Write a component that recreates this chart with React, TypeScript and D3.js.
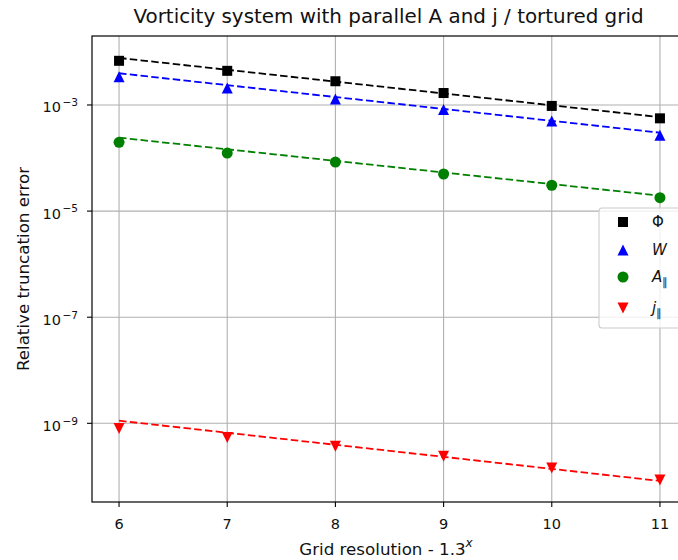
import { useMemo } from "react";
import * as d3 from "d3";

// grid resolutions (exponent of 1.3)
const resolutions = [6, 7, 8, 9, 10, 11];

// measured relative truncation errors
const phiErr = [6.8e-3, 4.4e-3, 2.8e-3, 1.68e-3, 9.6e-4, 5.6e-4];
const wErr = [3.4e-3, 2.1e-3, 1.3e-3, 8.2e-4, 5.0e-4, 2.7e-4];
const aParErr = [1.98e-4, 1.24e-4, 8.4e-5, 5.0e-5, 3.07e-5, 1.79e-5];
const jParErr = [8.0e-10, 5.4e-10, 3.7e-10, 2.4e-10, 1.44e-10, 8.5e-11];

// dashed reference lines: value at first and last resolution
const phiFit = [7.7e-3, 5.9e-4];
const wFit = [3.96e-3, 3.0e-4];
const aParFit = [2.42e-4, 1.95e-5];
const jParFit = [1.12e-9, 8.2e-11];

const yTicks = [1e-3, 1e-5, 1e-7, 1e-9];
const yTickExp = ["3", "5", "7", "9"];

const width = 678;
const height = 560;
const margin = { left: 92, right: 687, top: 36, bottom: 502 };
const font = "DejaVu Sans, sans-serif";
const ink = "#111";

type Series = {
  key: string;
  values: number[];
  fit: number[];
  color: string;
  marker: "square" | "up" | "circle" | "down";
};

const series: Series[] = [
  { key: "phi", values: phiErr, fit: phiFit, color: "#000000", marker: "square" },
  { key: "w", values: wErr, fit: wFit, color: "#0000ff", marker: "up" },
  { key: "apar", values: aParErr, fit: aParFit, color: "#008000", marker: "circle" },
  { key: "jpar", values: jParErr, fit: jParFit, color: "#ff0000", marker: "down" },
];

function Marker({ type, x, y, color }: { type: string; x: number; y: number; color: string }) {
  const s = 5.5;
  if (type === "square") return <rect x={x - 5} y={y - 5} width={10} height={10} fill={color} />;
  if (type === "circle") return <circle cx={x} cy={y} r={5.5} fill={color} />;
  if (type === "up")
    return <path d={`M${x},${y - s}L${x + s},${y + s}L${x - s},${y + s}Z`} fill={color} />;
  return <path d={`M${x},${y + s}L${x + s},${y - s}L${x - s},${y - s}Z`} fill={color} />;
}

export default function App() {
  const x = useMemo(
    () => d3.scaleLinear().domain([5.75, 11.25]).range([margin.left, margin.right]),
    []
  );
  const y = useMemo(
    () =>
      d3
        .scaleLog()
        .domain([Math.pow(10, -10.483), Math.pow(10, -1.7)])
        .range([margin.bottom, margin.top]),
    []
  );
  const line = d3
    .line<[number, number]>()
    .x((d) => x(d[0]))
    .y((d) => y(d[1]));

  const first = resolutions[0];
  const last = resolutions[resolutions.length - 1];

  const legendX = 599;
  const legendY = 208;
  const legendItems = [
    { marker: "square", color: "#000000", label: <tspan>Φ</tspan> },
    { marker: "up", color: "#0000ff", label: <tspan fontStyle="italic">W</tspan> },
    {
      marker: "circle",
      color: "#008000",
      label: (
        <>
          <tspan fontStyle="italic">A</tspan>
          <tspan fontSize={11} dy={4}>∥</tspan>
        </>
      ),
    },
    {
      marker: "down",
      color: "#ff0000",
      label: (
        <>
          <tspan fontStyle="italic">j</tspan>
          <tspan fontSize={11} dy={4}>∥</tspan>
        </>
      ),
    },
  ];
  const legendRowY = [222, 250, 277, 308];

  return (
    <svg
      width={width}
      height={height}
      style={{ position: "absolute", left: 0, top: 0, background: "#fff" }}
      fontFamily={font}
    >
      <defs>
        <clipPath id="plot">
          <rect x={margin.left} y={margin.top} width={margin.right - margin.left} height={margin.bottom - margin.top} />
        </clipPath>
      </defs>
      {/* grid */}
      <g stroke="#b0b0b0" strokeWidth={1.1}>
        {resolutions.map((r) => (
          <line key={r} x1={x(r)} x2={x(r)} y1={margin.top} y2={margin.bottom} />
        ))}
        {yTicks.map((t) => (
          <line key={t} x1={margin.left} x2={margin.right} y1={y(t)} y2={y(t)} />
        ))}
      </g>
      {/* reference lines and markers */}
      <g clipPath="url(#plot)">
        {series.map((s) => (
          <path
            key={s.key}
            d={line([
              [first, s.fit[0]],
              [last, s.fit[1]],
            ]) || ""}
            fill="none"
            stroke={s.color}
            strokeWidth={1.8}
            strokeDasharray="7.5,3.3"
          />
        ))}
        {series.map((s) =>
          s.values.map((v, i) => (
            <Marker key={s.key + i} type={s.marker} x={x(resolutions[i])} y={y(v)} color={s.color} />
          ))
        )}
      </g>
      {/* spines */}
      <rect
        x={margin.left}
        y={margin.top}
        width={margin.right - margin.left}
        height={margin.bottom - margin.top}
        fill="none"
        stroke="#000"
        strokeWidth={1.2}
      />
      {/* x ticks */}
      {resolutions.map((r) => (
        <g key={r}>
          <line x1={x(r)} x2={x(r)} y1={margin.bottom} y2={margin.bottom + 5} stroke="#000" strokeWidth={1.1} />
          <text x={x(r)} y={528.5} textAnchor="middle" fontSize={14.5} fill={ink}>
            {r}
          </text>
        </g>
      ))}
      {/* y ticks */}
      {yTicks.map((t, i) => (
        <g key={t}>
          <line x1={margin.left - 5} x2={margin.left} y1={y(t)} y2={y(t)} stroke="#000" strokeWidth={1.1} />
          <text x={margin.left - 31} y={y(t) + 7.5} textAnchor="end" fontSize={14.5} fill={ink}>
            10
          </text>
          <text x={margin.left - 14} y={y(t) + 1.3} textAnchor="end" fontSize={10.6} fill={ink}>
            {"\u2212" + yTickExp[i]}
          </text>
        </g>
      ))}
      {/* title */}
      <text x={388.5} y={23} textAnchor="middle" fontSize={19.9} fill={ink}>
        Vorticity system with parallel A and j / tortured grid
      </text>
      {/* axis labels */}
      <text x={386} y={555} textAnchor="middle" fontSize={16.7} fill={ink}>
        Grid resolution - 1.3
        <tspan fontSize={12} dy={-8} fontStyle="italic">
          x
        </tspan>
      </text>
      <text
        transform={`translate(28.5,${(margin.top + margin.bottom) / 2}) rotate(-90)`}
        textAnchor="middle"
        fontSize={16.7}
        fill={ink}
      >
        Relative truncation error
      </text>
      {/* legend */}
      <rect
        x={legendX}
        y={legendY}
        width={110}
        height={120}
        rx={3}
        fill="#fff"
        fillOpacity={0.8}
        stroke="#cccccc"
        strokeWidth={1.1}
      />
      {legendItems.map((it, i) => (
        <g key={i}>
          <Marker type={it.marker} x={623} y={legendRowY[i]} color={it.color} />
          <text x={652} y={legendRowY[i] + 5} fontSize={15} fill={ink}>
            {it.label}
          </text>
        </g>
      ))}
    </svg>
  );
}
